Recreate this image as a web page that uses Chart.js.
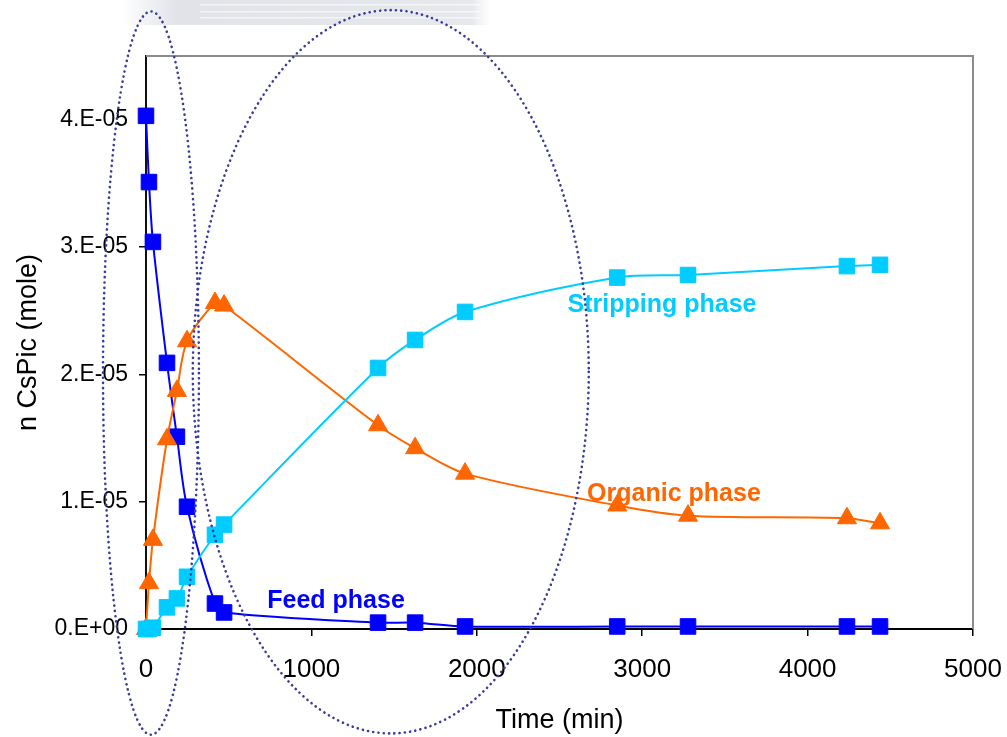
<!DOCTYPE html>
<html>
<head>
<meta charset="utf-8">
<title>CsPic transport</title>
<script src="https://cdn.jsdelivr.net/npm/chart.js@4"></script>
<style>
  html, body { margin: 0; padding: 0; background: #fff; }
  #wrap { width: 1007px; height: 737px; }
</style>
</head>
<body>
<div id="wrap"><canvas id="csChart" width="1007" height="737"></canvas></div>
<script>
// sampling times (min)
const times = [0, 18, 42, 127, 187, 248, 417, 472, 1403, 1627, 1929, 2849, 3277, 4238, 4438];

// n CsPic (mole) in each phase
const feedPhase = [4.03e-5, 3.51e-5, 3.04e-5, 2.09e-5, 1.51e-5, 0.96e-5, 0.20e-5, 0.13e-5,
  0.05e-5, 0.05e-5, 0.02e-5, 0.02e-5, 0.02e-5, 0.02e-5, 0.02e-5];
const organicPhase = [0, 0.36e-5, 0.70e-5, 1.49e-5, 1.87e-5, 2.26e-5, 2.56e-5, 2.54e-5,
  1.60e-5, 1.42e-5, 1.22e-5, 0.97e-5, 0.89e-5, 0.87e-5, 0.83e-5];
const strippingPhase = [0, 0, 0.01e-5, 0.17e-5, 0.24e-5, 0.41e-5, 0.74e-5, 0.82e-5,
  2.05e-5, 2.27e-5, 2.49e-5, 2.76e-5, 2.78e-5, 2.85e-5, 2.86e-5];

const xTicks = [0, 1000, 2000, 3000, 4000, 5000];
const yTicks = [0, 1e-5, 2e-5, 3e-5, 4e-5];

// in-plot series names, anchored in data units
const seriesLabels = [
  { text: 'Stripping phase', x: 3120, y: 2.54e-5, color: '#00CCFF' },
  { text: 'Organic phase', x: 3192, y: 1.06e-5, color: '#FF6600' },
  { text: 'Feed phase', x: 1149, y: 0.22e-5, color: '#0000FF' }
];

// dotted ellipses around the early and middle stages (data units)
const stageEllipses = [
  { cx: 30, cy: 2.01e-5, rx: 290, ry: 2.84e-5 },
  { cx: 1480, cy: 2.02e-5, rx: 1197, ry: 2.84e-5 }
];

const FONT = "'Liberation Sans', Arial, sans-serif";

function pts(ys) {
  return times.map((t, i) => ({ x: t, y: ys[i] }));
}

// 1e-5 -> "1.E-05", 0 -> "0.E+00"
function sciLabel(v) {
  if (v === 0) return '0.E+00';
  const e = Math.floor(Math.log10(Math.abs(v)) + 1e-9);
  const m = Math.round(v / Math.pow(10, e));
  const sign = e < 0 ? '-' : '+';
  return m + '.E' + sign + String(Math.abs(e)).padStart(2, '0');
}

const decorPlugin = {
  id: 'decor',
  beforeDraw(chart) {
    const ctx = chart.ctx;
    // faded grey strip along the top edge
    ctx.save();
    const g = ctx.createLinearGradient(122, 0, 490, 0);
    g.addColorStop(0, 'rgba(225,227,232,0)');
    g.addColorStop(0.15, 'rgba(225,227,232,1)');
    g.addColorStop(0.95, 'rgba(230,232,236,1)');
    g.addColorStop(1, 'rgba(235,236,240,0)');
    ctx.fillStyle = g;
    ctx.fillRect(122, 0, 368, 25);
    ctx.fillStyle = 'rgba(255,255,255,0.6)';
    [4, 11, 17].forEach(y => ctx.fillRect(200, y, 280, 1.5));
    ctx.restore();
  },
  beforeDatasetsDraw(chart) {
    const { ctx, chartArea: a } = chart;
    // grey frame on top and right of the plot area
    ctx.save();
    ctx.strokeStyle = '#8c8c8c';
    ctx.lineWidth = 2;
    ctx.beginPath();
    ctx.moveTo(a.left, a.top);
    ctx.lineTo(a.right, a.top);
    ctx.lineTo(a.right, a.bottom);
    ctx.stroke();
    ctx.restore();
  },
  afterDraw(chart) {
    const ctx = chart.ctx;
    const xs = chart.scales.x, ys = chart.scales.y;
    ctx.save();
    ctx.textAlign = 'center';
    ctx.textBaseline = 'middle';
    ctx.font = 'bold 25px ' + FONT;
    seriesLabels.forEach(l => {
      ctx.fillStyle = l.color;
      ctx.fillText(l.text, xs.getPixelForValue(l.x), ys.getPixelForValue(l.y));
    });
    ctx.strokeStyle = '#3b3b9c';
    ctx.lineWidth = 2.6;
    ctx.lineCap = 'round';
    ctx.setLineDash([0.1, 5.2]);
    stageEllipses.forEach(e => {
      const cx = xs.getPixelForValue(e.cx);
      const cy = ys.getPixelForValue(e.cy);
      const rx = Math.abs(xs.getPixelForValue(e.cx + e.rx) - cx);
      const ry = Math.abs(ys.getPixelForValue(e.cy + e.ry) - cy);
      ctx.beginPath();
      ctx.ellipse(cx, cy, rx, ry, 0, 0, Math.PI * 2);
      ctx.stroke();
    });
    ctx.restore();
  }
};

function series(label, ys, color, style, order) {
  return {
    label: label,
    data: pts(ys),
    borderColor: color,
    backgroundColor: color,
    borderWidth: 2,
    pointStyle: style,
    pointRadius: 11,
    pointBorderWidth: 1,
    pointBorderColor: color,
    pointBackgroundColor: color,
    tension: 0.3,
    clip: false,
    order: order
  };
}

new Chart(document.getElementById('csChart'), {
  type: 'line',
  data: {
    datasets: [
      series('Stripping phase', strippingPhase, '#00CCFF', 'rect', 0),
      series('Organic phase', organicPhase, '#FF6600', 'triangle', 1),
      series('Feed phase', feedPhase, '#0000FF', 'rect', 2)
    ]
  },
  options: {
    responsive: false,
    animation: false,
    devicePixelRatio: 1,
    layout: { padding: { left: 0, right: 34, top: 56, bottom: 0 } },
    plugins: {
      legend: { display: false },
      tooltip: { enabled: false }
    },
    scales: {
      x: {
        type: 'linear',
        min: 0,
        max: 5000,
        afterFit: s => { s.height = 108; s.paddingLeft = 0; s.paddingRight = 0; },
        afterBuildTicks: s => { s.ticks = xTicks.map(v => ({ value: v })); },
        border: { display: true, color: '#000', width: 2 },
        grid: { drawOnChartArea: false, drawTicks: true, tickLength: 7, color: '#000', lineWidth: 1.5 },
        ticks: { color: '#000', padding: 18, maxRotation: 0, callback: v => String(v), font: { family: FONT, size: 26 } },
        title: {
          display: true,
          text: 'Time (min)',
          color: '#000',
          padding: { top: 0, bottom: 0 },
          font: { family: FONT, size: 27 }
        }
      },
      y: {
        type: 'linear',
        min: 0,
        max: 4.5e-5,
        afterFit: s => { s.width = 146; s.paddingTop = 0; s.paddingBottom = 0; },
        afterBuildTicks: s => { s.ticks = yTicks.map(v => ({ value: v })); },
        border: { display: true, color: '#111', width: 2 },
        grid: { drawOnChartArea: false, drawTicks: true, tickLength: 7, color: '#000', lineWidth: 1.5 },
        ticks: { color: '#000', padding: 11, callback: v => sciLabel(v), font: { family: FONT, size: 23 } },
        title: {
          display: true,
          text: 'n CsPic (mole)',
          color: '#000',
          padding: { top: 12, bottom: 0 },
          font: { family: FONT, size: 27 }
        }
      }
    }
  },
  plugins: [decorPlugin]
});
</script>
</body>
</html>
